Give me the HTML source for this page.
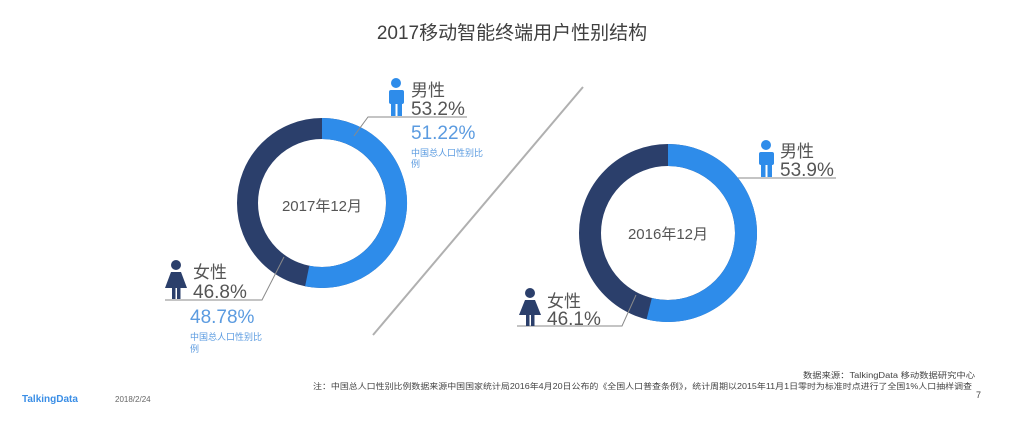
<!DOCTYPE html>
<html><head><meta charset="utf-8"><style>
body{margin:0;width:1024px;height:420px;background:#fff;overflow:hidden;font-family:"Liberation Sans","Noto Sans CJK SC",sans-serif;}
</style></head><body>
<svg width="1024" height="420" xmlns="http://www.w3.org/2000/svg" font-family="Liberation Sans, Noto Sans CJK SC, sans-serif">
<text x="512" y="39" font-size="19" fill="#404040" text-anchor="middle">2017移动智能终端用户性别结构</text>
<line x1="583" y1="87" x2="373" y2="335" stroke="#b0b0b0" stroke-width="2"/>
<g transform="translate(322,203)">
<circle r="74.5" fill="none" stroke="#2b3f6b" stroke-width="21"/>
<path d="M0,-74.5 A74.5,74.5 0 1 1 -14.8,73.0" fill="none" stroke="#2e8cea" stroke-width="21"/>
<text x="0" y="8" font-size="15" fill="#555" text-anchor="middle">2017年12月</text>
</g>
<polyline points="354,136 368,117 467,117" fill="none" stroke="#8a8a8a" stroke-width="1"/>
<polyline points="284,257 262,300 165,300" fill="none" stroke="#8a8a8a" stroke-width="1"/>
<g fill="#2e8cea"><circle cx="396" cy="83" r="5"/><rect x="389" y="90" width="15" height="14" rx="2"/><rect x="391" y="102" width="4.5" height="14"/><rect x="397.5" y="102" width="4.5" height="14"/></g>
<text x="411" y="96" font-size="17" fill="#555">男性</text>
<text x="411" y="115" font-size="19" fill="#555">53.2%</text>
<text x="411" y="139" font-size="19" fill="#5b9be0">51.22%</text>
<text x="411" y="156" font-size="9" fill="#5b9be0">中国总人口性别比</text>
<text x="411" y="167" font-size="9" fill="#5b9be0">例</text>
<g fill="#2b3f6b"><circle cx="176" cy="265" r="5"/><path d="M171,272 h10 l6,16 h-22z"/><rect x="172" y="287" width="3.5" height="12"/><rect x="177" y="287" width="3.5" height="12"/></g>
<text x="193" y="278" font-size="17" fill="#555">女性</text>
<text x="193" y="298" font-size="19" fill="#555">46.8%</text>
<text x="190" y="323" font-size="19" fill="#5b9be0">48.78%</text>
<text x="190" y="340" font-size="9" fill="#5b9be0">中国总人口性别比</text>
<text x="190" y="352" font-size="9" fill="#5b9be0">例</text>
<g transform="translate(668,233)">
<circle r="78" fill="none" stroke="#2b3f6b" stroke-width="22"/>
<path d="M0,-78 A78,78 0 1 1 -18.8,75.7" fill="none" stroke="#2e8cea" stroke-width="22"/>
<text x="0" y="6" font-size="15" fill="#555" text-anchor="middle">2016年12月</text>
</g>
<polyline points="738,178 836,178" fill="none" stroke="#8a8a8a" stroke-width="1"/>
<polyline points="636,295 622,326 517,326" fill="none" stroke="#8a8a8a" stroke-width="1"/>
<g fill="#2e8cea"><circle cx="766" cy="145" r="5"/><rect x="759" y="152" width="15" height="13" rx="2"/><rect x="761" y="163" width="4.5" height="14"/><rect x="767.5" y="163" width="4.5" height="14"/></g>
<text x="780" y="157" font-size="17" fill="#555">男性</text>
<text x="780" y="176" font-size="19" fill="#555">53.9%</text>
<g fill="#2b3f6b"><circle cx="530" cy="293" r="5"/><path d="M525,300 h10 l6,15 h-22z"/><rect x="526" y="314" width="3.5" height="12"/><rect x="531" y="314" width="3.5" height="12"/></g>
<text x="547" y="307" font-size="17" fill="#555">女性</text>
<text x="547" y="325" font-size="19" fill="#555">46.1%</text>
<text x="22" y="402" font-size="10" font-weight="bold" fill="#3a8ee6">TalkingData</text>
<text x="115" y="402" font-size="8" fill="#666">2018/2/24</text>
<text x="803" y="378" font-size="8" fill="#444" textLength="172" lengthAdjust="spacingAndGlyphs">数据来源：TalkingData 移动数据研究中心</text>
<text x="313" y="389" font-size="8" fill="#444" textLength="659" lengthAdjust="spacingAndGlyphs">注：中国总人口性别比例数据来源中国国家统计局2016年4月20日公布的《全国人口普查条例》，统计周期以2015年11月1日零时为标准时点进行了全国1%人口抽样调查</text>
<text x="976" y="398" font-size="9" fill="#444">7</text>
</svg>
</body></html>
